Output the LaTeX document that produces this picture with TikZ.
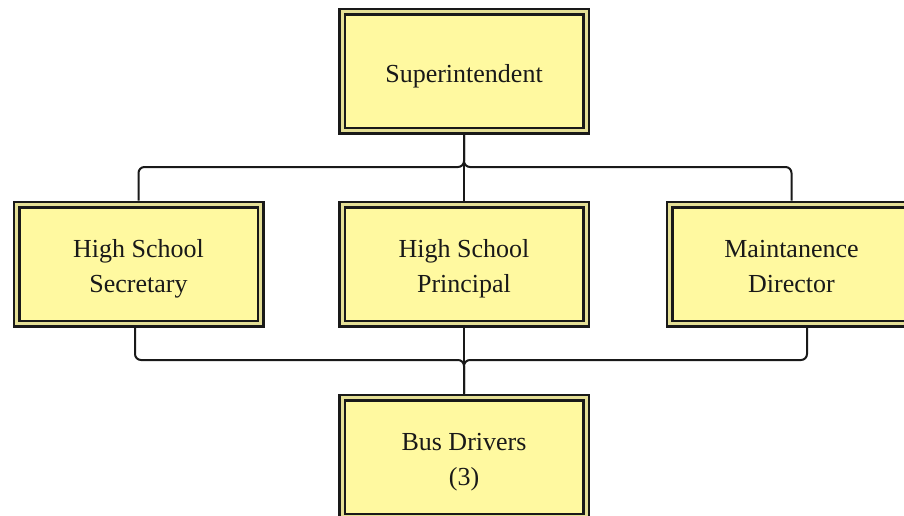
\documentclass[tikz,border=0pt]{standalone}
\usepackage{fontspec}
\setmainfont{Liberation Serif}
\definecolor{boxfill}{RGB}{255,249,160}
\definecolor{gapcol}{RGB}{228,223,150}
\definecolor{inkcol}{RGB}{25,25,25}
\newcommand\boxtxt[1]{\raisebox{-4pt}[\height][\depth]{\begin{tabular}{@{}c@{}}#1\end{tabular}}}
\tikzset{
  orgbox/.style={draw=inkcol, line width=2.5pt, double=gapcol, double distance=3pt,
    fill=boxfill, minimum width=244pt, minimum height=119pt, inner sep=0pt,
    outer sep=4pt, text=inkcol,
    font=\fontsize{26pt}{35pt}\selectfont},
  conn/.style={draw=inkcol, line width=2pt, rounded corners=6pt}
}
\begin{document}
\begin{tikzpicture}[x=1pt,y=-1pt]
\useasboundingbox (0,0) rectangle (904,515);
\clip (0,0) rectangle (904,515);
\node[orgbox] (sup) at (464,71) {\boxtxt{Superintendent}};
\node[orgbox] (hss) at (138.5,264) {\boxtxt{High School\\Secretary}};
\node[orgbox] (hsp) at (464,264) {\boxtxt{High School\\Principal}};
\node[orgbox] (md) at (791.5,264) {\boxtxt{Maintanence\\Director}};
\node[orgbox] (bus) at (464,457) {\boxtxt{Bus Drivers\\(3)}};
\coordinate (topj) at (464,167);
\coordinate (botj) at (464,360);
\draw[conn] (sup.south) -- (topj) -| (hss.north);
\draw[conn] (sup.south) -- (hsp.north);
\draw[conn] (sup.south) -- (topj) -| (md.north);
\draw[conn] ([xshift=-3.5pt]hss.south) |- (botj) -- (bus.north);
\draw[conn] (hsp.south) -- (bus.north);
\draw[conn] ([xshift=15.5pt]md.south) |- (botj) -- (bus.north);
\end{tikzpicture}
\end{document}
